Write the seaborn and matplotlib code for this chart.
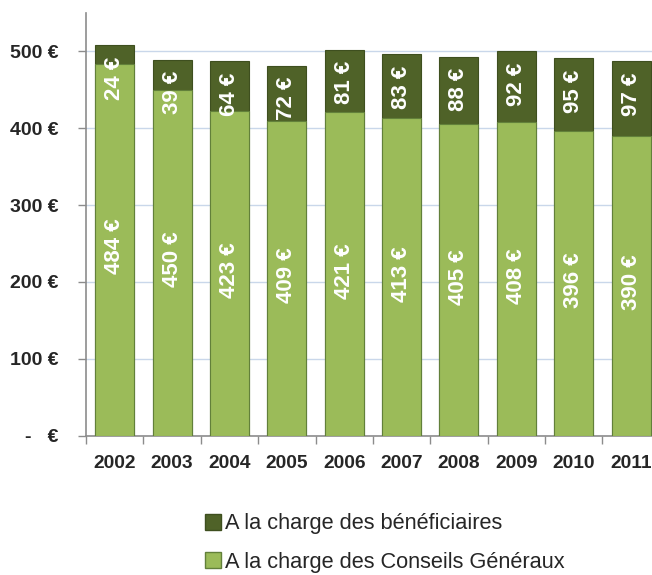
import matplotlib
matplotlib.use("Agg")
import matplotlib.pyplot as plt
import seaborn as sns
import pandas as pd
from matplotlib.patches import Patch

years = ["2002", "2003", "2004", "2005", "2006", "2007", "2008", "2009", "2010", "2011"]
conseils = [484, 450, 423, 409, 421, 413, 405, 408, 396, 390]
beneficiaires = [24, 39, 64, 72, 81, 83, 88, 92, 95, 97]
yticks = [0, 100, 200, 300, 400, 500]
ytick_labels = ["-   €", "100 €", "200 €", "300 €", "400 €", "500 €"]
legend_labels = ["A la charge des bénéficiaires", "A la charge des Conseils Généraux"]

sns.set_theme(style="white")
plt.rcParams["font.family"] = ["Liberation Sans", "DejaVu Sans"]

df = pd.DataFrame({"year": years, "cg": conseils, "ben": beneficiaires})
df["total"] = df["cg"] + df["ben"]

dark = "#4F6228"
light = "#9BBB59"
dark_edge = "#3e4f1f"
light_edge = "#62803a"

fig = plt.figure(figsize=(6.52, 5.75), dpi=100)
ax = fig.add_axes([0.1319, 0.2426, 0.880, 0.7348])

sns.barplot(data=df, x="year", y="total", color=dark, width=0.68, ax=ax,
            saturation=1, edgecolor=dark_edge, linewidth=0.8, zorder=3)
sns.barplot(data=df, x="year", y="cg", color=light, width=0.68, ax=ax,
            saturation=1, edgecolor=light_edge, linewidth=0.8, zorder=3)

ax.set_ylim(0, 550)
ax.set_xlim(-0.5, len(years) - 0.5)
ax.set_yticks(yticks)
ax.set_yticklabels(ytick_labels)
ax.set_xlabel("")
ax.set_ylabel("")
ax.yaxis.grid(True, color="#C9D7EA", linewidth=1.0, zorder=0)
ax.xaxis.grid(False)
ax.set_axisbelow(True)

for s in ["top", "right"]:
    ax.spines[s].set_visible(False)
for s in ["left", "bottom"]:
    ax.spines[s].set_color("#8c8c8c")
    ax.spines[s].set_linewidth(1.2)

ax.tick_params(axis="y", which="major", direction="out", length=6, width=1.0,
               color="#8c8c8c", left=True, labelsize=14, pad=14)
ax.tick_params(axis="x", which="major", length=0, labelsize=13.8, pad=14)
ax.set_xticks([i + 0.5 for i in range(-1, len(years))], minor=True)
ax.tick_params(axis="x", which="minor", direction="out", length=6, width=1.0,
               color="#8c8c8c", bottom=True)
for lab in ax.get_yticklabels() + ax.get_xticklabels():
    lab.set_fontweight("bold")

for i, (cg, ben) in enumerate(zip(conseils, beneficiaires)):
    ax.text(i, cg / 2 + 4, f"{cg} €", rotation=90, ha="center", va="center",
            color="white", fontsize=16, fontweight="bold", zorder=5)
    ax.annotate(f"{ben} €", xy=(i, cg + ben), xytext=(0, -8), textcoords="offset points",
                rotation=90, ha="center", va="top", color="white", fontsize=16,
                fontweight="bold", zorder=5)

handles = [Patch(facecolor=dark, edgecolor=dark_edge),
           Patch(facecolor=light, edgecolor=light_edge)]
fig.legend(handles, legend_labels, loc="upper left", bbox_to_anchor=(0.3144, 0.1076),
           frameon=False, prop={"family": ["Liberation Sans", "DejaVu Sans"], "size": 15.7},
           handlelength=0.75, handleheight=0.75, handletextpad=0.15, labelspacing=0.8,
           borderaxespad=0, borderpad=0)

fig.savefig("out.png", dpi=100)
